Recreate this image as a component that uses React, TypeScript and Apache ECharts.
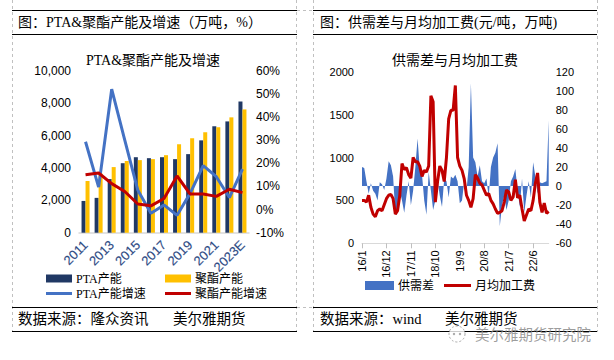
import React, { useEffect, useRef } from 'react';
import * as echarts from 'echarts';

// ---- Left chart data ----
const years = ['2011', '2012', '2013', '2014', '2015', '2016', '2017', '2018', '2019', '2020', '2021', '2022', '2023E'];
const ptaCapacity = [1960, 2150, 3310, 4290, 4660, 4600, 4660, 4540, 4850, 5700, 6570, 6870, 8100];
const polyCapacity = [3190, 3650, 4050, 4420, 4480, 4540, 4785, 5460, 5830, 6200, 6510, 7120, 7610];
const ptaGrowth = [29.3, 9.7, 52, 30, 8.3, -1.6, 2, -2.5, 7, 19, 14.2, 5.2, 17.5];
const polyGrowth = [15, 15.8, 11.2, 7.8, 2.4, 1.6, 4.8, 14.5, 6.7, 6.7, 5.7, 8.8, 7.3];

// ---- Right chart data ----
const months: string[] = [];
for (let y = 16; y <= 23; y++) {
  for (let m = 1; m <= 12; m++) {
    if (y === 23 && m > 1) break;
    months.push(`${y}/${m}`);
  }
}
const supplyDemandGap = [
  20, 19, 5, -8, 3, -5, -8, -15, 4, 2,
  -4, 8, 26, 22, 10, -30, -28, -5, -15, -28,
  -10, 5, -20, -5, 20, 50, 18, 12, -15, -30,
  15, -5, -25, -15, 6, -10, -22, 8, 5, -12,
  10, 8, 12, 5, -18, -15, 5, -5, 20, 108,
  30, 25, 10, 22, 5, 3, 8, -12, 20, 30,
  35, 45, -42, -20, -10, -25, -15, 5, 10, 18,
  -5, -22, 8, -28, -10, 5, -12, 25, 10, -8,
  4, 3, 4, 5, 69,
];
const processingFee = [
  500, 500, 480, 560, 420, 340, 310, 380, 400, 380,
  450, 520, 560, 570, 520, 340, 380, 560, 930, 860,
  880, 800, 760, 1000, 950, 950, 900, 780, 850, 830,
  900, 1720, 1650, 480, 720, 900, 850, 720, 1000, 1450,
  1550, 1550, 1840, 1000, 900, 850, 750, 560, 500, 420,
  520, 800, 760, 700, 680, 620, 560, 580, 500, 460,
  400, 350, 360, 380, 480, 620, 600, 500, 540, 740,
  530, 560, 400, 260, 330, 400, 380, 500, 700, 820,
  480, 360, 470, 350, 370,
];

const leftTicks = { min: 0, max: 10000, interval: 2000 };
const leftRightTicks = { min: -10, max: 60, interval: 10 };
const rightTicks = { min: 0, max: 2000, interval: 500 };
const rightRightTicks = { min: -60, max: 120, interval: 20 };

const SERIF = "'Liberation Serif', 'Noto Sans CJK SC', serif";
const SANS = "'Liberation Sans', 'Noto Sans CJK SC', sans-serif";

function txt(text: string, x: number, y: number, size: number, align: string, family = SERIF, fill = '#000') {
  return {
    type: 'text',
    x,
    y,
    silent: true,
    style: {
      text,
      fill,
      fontSize: size,
      fontFamily: family,
      textAlign: align,
      textVerticalAlign: 'middle',
      align,
      verticalAlign: 'middle',
    },
  };
}
function ln(x1: number, y1: number, x2: number, y2: number, stroke = '#000', dash?: number[]) {
  return {
    type: 'line',
    silent: true,
    shape: { x1, y1, x2, y2 },
    style: { stroke, lineWidth: 1, lineDash: dash || null },
  };
}

function legend(name: string, left: number, top: number, w: number, h: number) {
  return {
    data: [name],
    left,
    top,
    padding: 0,
    itemWidth: w,
    itemHeight: h,
    icon: 'rect',
    selectedMode: false,
    textStyle: { fontSize: 12, fontFamily: SERIF, color: '#000', lineHeight: 14, padding: [0, 0, 0, -1] },
  };
}

export default function App() {
  const ref = useRef<HTMLDivElement>(null);
  useEffect(() => {
    if (!ref.current) return;
    const chart = echarts.init(ref.current, undefined, { renderer: 'svg' });
    const dashC = '#c0c0c0';
    const option: any = {
      animation: false,
      backgroundColor: '#fff',
      grid: [
        { left: 79, top: 70.7, width: 170, height: 162 },
        { left: 362, top: 71.7, width: 186.7, height: 171.6 },
      ],
      xAxis: [
        {
          gridIndex: 0,
          type: 'category',
          data: years,
          boundaryGap: true,
          axisLine: { onZero: false, lineStyle: { color: '#d9d9d9', width: 1.5 } },
          axisTick: { show: false },
          axisLabel: {
            interval: 1,
            rotate: 45,
            fontSize: 13,
            fontFamily: SANS,
            color: '#2F4A80',
            margin: 10,
            textBorderColor: 'rgba(143,170,220,0.45)',
            textBorderWidth: 0.6,
          },
        },
        {
          gridIndex: 1,
          type: 'category',
          data: months,
          boundaryGap: false,
          axisLine: { onZero: false, lineStyle: { color: '#d9d9d9', width: 1 } },
          axisTick: { show: true, interval: 10, length: 5, lineStyle: { color: '#bfbfbf' } },
          axisLabel: { interval: 10, rotate: 90, fontSize: 11, fontFamily: SANS, color: '#000', margin: 7 },
        },
      ],
      yAxis: [
        {
          gridIndex: 0,
          type: 'value',
          ...leftTicks,
          axisLine: { show: false },
          axisTick: { show: false },
          splitLine: { show: false },
          axisLabel: {
            fontSize: 12,
            fontFamily: SANS,
            color: '#000',
            margin: 8,
            formatter: (v: number) => v.toLocaleString('en-US'),
          },
        },
        {
          gridIndex: 0,
          type: 'value',
          position: 'right',
          ...leftRightTicks,
          axisLine: { show: false },
          axisTick: { show: false },
          splitLine: { show: false },
          axisLabel: { fontSize: 12, fontFamily: SANS, color: '#000', margin: 7, formatter: '{value}%' },
        },
        {
          gridIndex: 1,
          type: 'value',
          ...rightTicks,
          axisLine: { show: false },
          axisTick: { show: false },
          splitLine: { show: false },
          axisLabel: { fontSize: 11, fontFamily: SANS, color: '#000', margin: 8, formatter: (v: number) => String(v) },
        },
        {
          gridIndex: 1,
          type: 'value',
          position: 'right',
          ...rightRightTicks,
          axisLine: { show: false },
          axisTick: { show: false },
          splitLine: { show: false },
          axisLabel: { fontSize: 11, fontFamily: SANS, color: '#000', margin: 7, formatter: (v: number) => String(v) },
        },
      ],
      legend: [
        legend('PTA产能', 46, 271.5, 26, 8),
        legend('聚酯产能', 165, 271.5, 26, 8),
        legend('PTA产能增速', 46, 286.5, 26, 3),
        legend('聚酯产能增速', 165, 286.5, 26, 3),
        legend('供需差', 365, 278.5, 29, 9),
        legend('月均加工费', 444, 278.5, 27, 3),
      ],
      series: [
        {
          name: 'PTA产能',
          type: 'bar',
          xAxisIndex: 0,
          yAxisIndex: 0,
          data: ptaCapacity,
          barWidth: 4,
          barGap: '0%',
          itemStyle: { color: '#203864' },
        },
        {
          name: '聚酯产能',
          type: 'bar',
          xAxisIndex: 0,
          yAxisIndex: 0,
          data: polyCapacity,
          barWidth: 4,
          barGap: '0%',
          itemStyle: { color: '#FFC000' },
        },
        {
          name: 'PTA产能增速',
          type: 'line',
          xAxisIndex: 0,
          yAxisIndex: 1,
          data: ptaGrowth,
          symbol: 'none',
          lineStyle: { color: '#4472C4', width: 3 },
          itemStyle: { color: '#4472C4' },
        },
        {
          name: '聚酯产能增速',
          type: 'line',
          xAxisIndex: 0,
          yAxisIndex: 1,
          data: polyGrowth,
          symbol: 'none',
          lineStyle: { color: '#C00000', width: 3 },
          itemStyle: { color: '#C00000' },
        },
        {
          name: '供需差',
          type: 'line',
          xAxisIndex: 1,
          yAxisIndex: 3,
          data: supplyDemandGap,
          symbol: 'none',
          lineStyle: { width: 0, color: '#4472C4' },
          areaStyle: { color: '#4472C4', opacity: 1 },
          itemStyle: { color: '#4472C4' },
        },
        {
          name: '月均加工费',
          type: 'line',
          xAxisIndex: 1,
          yAxisIndex: 2,
          data: processingFee,
          symbol: 'none',
          lineStyle: { color: '#C00000', width: 3 },
          itemStyle: { color: '#C00000' },
        },
      ],
      graphic: [
        // dashed cell borders
        ln(12.5, 0, 12.5, 332, dashC, [3, 3]),
        ln(296.5, 0, 296.5, 332, dashC, [3, 3]),
        ln(313.5, 0, 313.5, 332, dashC, [3, 3]),
        ln(597.5, 0, 597.5, 332, dashC, [3, 3]),
        ln(297, 10.5, 313, 10.5, dashC, [3, 3]),
        ln(297, 307.5, 313, 307.5, dashC, [3, 3]),
        // solid header / footer lines
        ln(12, 10.5, 297, 10.5),
        ln(12, 34.5, 297, 34.5),
        ln(12, 307.5, 297, 307.5),
        ln(12, 331.5, 297, 331.5),
        ln(313, 10.5, 597, 10.5),
        ln(313, 34.5, 597, 34.5),
        ln(313, 307.5, 597, 307.5),
        ln(313, 331.5, 597, 331.5),
        // headers
        txt('图：PTA&聚酯产能及增速（万吨，%）', 18, 22, 14, 'left'),
        txt('图：供需差与月均加工费(元/吨，万吨)', 320, 22, 14, 'left'),
        // chart titles
        txt('PTA&聚酯产能及增速', 153, 60, 14, 'center'),
        txt('供需差与月均加工费', 455, 60, 14, 'center'),
        // footers
        txt('数据来源：隆众资讯', 18, 318.5, 14.5, 'left'),
        txt('美尔雅期货', 173, 318.5, 14.5, 'left'),
        txt('数据来源：wind', 320, 318.5, 14.5, 'left'),
        txt('美尔雅期货', 445, 318.5, 14.5, 'left'),
        // watermark
        {
          type: 'circle',
          silent: true,
          shape: { cx: 457, cy: 334, r: 8 },
          style: { fill: 'rgba(255,255,255,0.8)', stroke: '#a8a8a8', lineWidth: 1, lineDash: [2, 2] },
        },
        { type: 'circle', silent: true, shape: { cx: 454, cy: 334, r: 1.2 }, style: { fill: '#a8a8a8' } },
        { type: 'circle', silent: true, shape: { cx: 460, cy: 334, r: 1.2 }, style: { fill: '#a8a8a8' } },
        txt('美尔雅期货研究院', 475, 334.5, 14.5, 'left', SANS, 'rgba(140,140,140,0.85)'),
      ],
    };
    chart.setOption(option);
    return () => chart.dispose();
  }, []);
  return (
    <div
      ref={ref}
      style={{ position: 'absolute', left: 0, top: 0, width: 614, height: 360, background: '#fff' }}
    />
  );
}
